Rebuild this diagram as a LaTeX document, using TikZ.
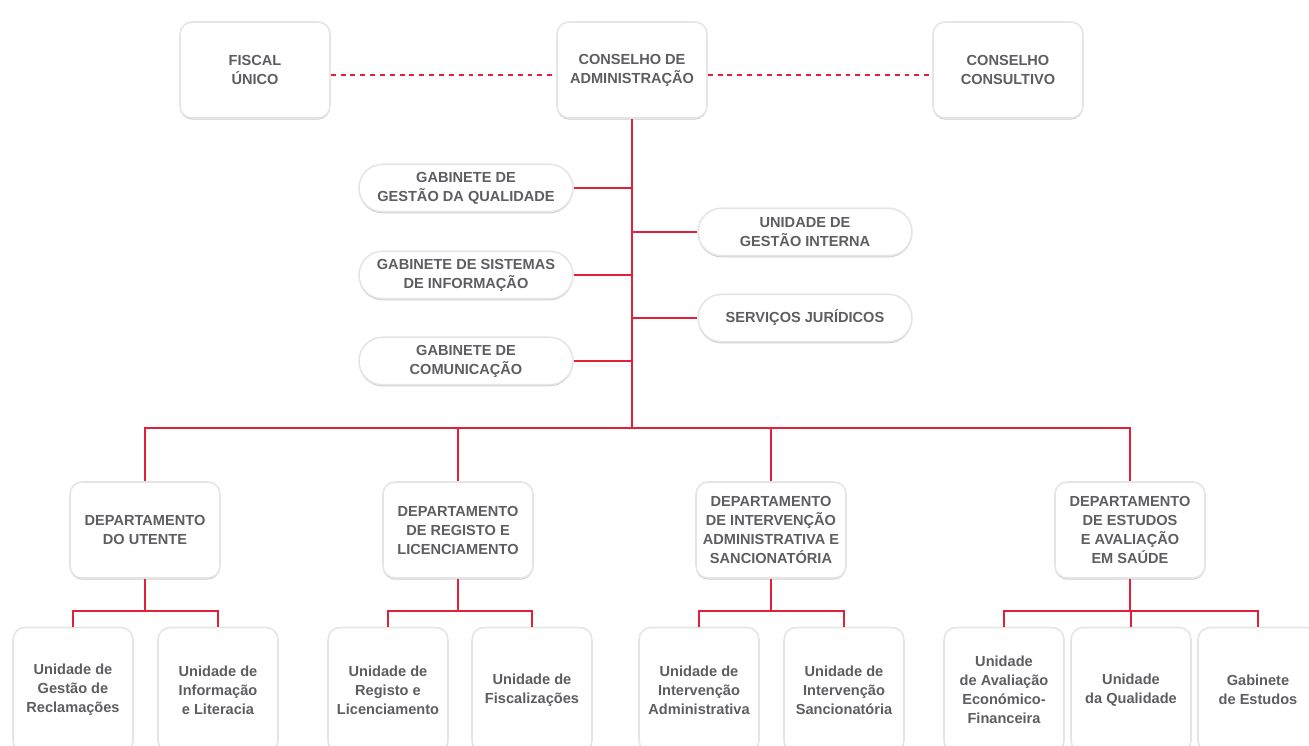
\documentclass[tikz,border=0pt]{standalone}
\usepackage{fontspec}
\setmainfont{Liberation Sans}
\usetikzlibrary{shadows}
\definecolor{orgred}{HTML}{E2203A}
\definecolor{orggrey}{HTML}{5E5E62}

\begin{document}
\begin{tikzpicture}[x=0.02cm,y=-0.02cm,
                    font=\bfseries\fontsize{8.3}{10.8}\selectfont,text=orggrey,
                    link/.style={draw=orgred,line width=1.4pt},
                    dots/.style={draw=orgred,line width=1.4pt,dash pattern=on 2.8pt off 2.8pt}]
  \tikzstyle{card}=[draw=black!10,line width=0.9pt,fill=white,align=center,
                    inner sep=2pt,
                    drop shadow={shadow xshift=0pt,shadow yshift=-0.9pt,opacity=0.28,fill=black!70}]
  \tikzstyle{board}=[card,rounded corners=0.24cm,minimum width=3cm,minimum height=1.92cm]
  \tikzstyle{pill}=[card,rounded corners=0.47cm,minimum width=4.28cm,minimum height=0.95cm]
  \tikzstyle{dept}=[board]
  \tikzstyle{unit}=[card,rounded corners=0.24cm,minimum width=2.4cm,minimum height=2.5cm]

  \useasboundingbox (0,0) rectangle (1309,745);

  % top level
  \node[board] (fu) at (255,70)  {FISCAL\\ÚNICO};
  \node[board] (ca) at (632,70)  {CONSELHO DE\\ADMINISTRAÇÃO};
  \node[board] (cc) at (1008,70) {CONSELHO\\CONSULTIVO};

  % staff offices
  \node[pill] (gq)  at (466,188) {GABINETE DE\\GESTÃO DA QUALIDADE};
  \node[pill] (gsi) at (466,275) {GABINETE DE SISTEMAS\\DE INFORMAÇÃO};
  \node[pill] (gc)  at (466,361) {GABINETE DE\\COMUNICAÇÃO};
  \node[pill] (ugi) at (805,232) {UNIDADE DE\\GESTÃO INTERNA};
  \node[pill] (sj)  at (805,318) {SERVIÇOS JURÍDICOS};

  % departments
  \node[dept] (du)   at (145,530)  {DEPARTAMENTO\\DO UTENTE};
  \node[dept] (drl)  at (458,530)  {DEPARTAMENTO\\DE REGISTO E\\LICENCIAMENTO};
  \node[dept] (dias) at (771,530)  {DEPARTAMENTO\\DE INTERVENÇÃO\\ADMINISTRATIVA E\\SANCIONATÓRIA};
  \node[dept] (deas) at (1130,530) {DEPARTAMENTO\\DE ESTUDOS\\E AVALIAÇÃO\\EM SAÚDE};

  % units
  \node[unit] (ugr)  at (73,690)   {Unidade de\\Gestão de\\Reclamações};
  \node[unit] (uil)  at (218,690)  {Unidade de\\Informação\\e Literacia};
  \node[unit] (url)  at (388,690)  {Unidade de\\Registo e\\Licenciamento};
  \node[unit] (uf)   at (532,690)  {Unidade de\\Fiscalizações};
  \node[unit] (uia)  at (699,690)  {Unidade de\\Intervenção\\Administrativa};
  \node[unit] (uis)  at (844,690)  {Unidade de\\Intervenção\\Sancionatória};
  \node[unit] (uaef) at (1004,690) {Unidade\\de Avaliação\\Económico-\\Financeira};
  \node[unit] (uq)   at (1131,690) {Unidade\\da Qualidade};
  \node[unit] (ge)   at (1258,690) {Gabinete\\de Estudos};

  \coordinate (hub) at (632,428);

  % connectors
  \path[dots] (fu.east |- 0,75) -- (ca.west |- 0,75)
              (ca.east |- 0,75) -- (cc.west |- 0,75);
  \path[link] (ca.south) -- (hub);
  \path[link] (gq.east)  -- (gq.east -| hub)
              (gsi.east) -- (gsi.east -| hub)
              (gc.east)  -- (gc.east -| hub)
              (ugi.west) -- (ugi.west -| hub)
              (sj.west)  -- (sj.west -| hub);
  \path[link] (du.north) |- (hub) -| (deas.north)
              (drl.north) -- (drl.north |- hub)
              (dias.north) -- (dias.north |- hub);

  \foreach \d/\a/\b in {du/ugr/uil,drl/url/uf,dias/uia/uis,deas/uaef/ge}
    \path[link] (\d.south) -- ++(0,32) coordinate (\d-j)
                (\a.north) |- (\d-j) -| (\b.north);
  \path[link] (uq.north) -- (uq.north |- deas-j);
\end{tikzpicture}
\end{document}
